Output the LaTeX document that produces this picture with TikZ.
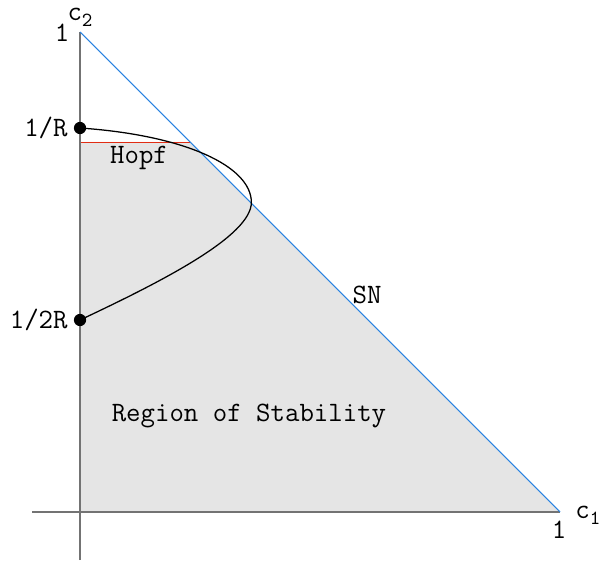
\documentclass[tikz,border=0pt]{standalone}
\usepackage{tikz}
\definecolor{snblue}{RGB}{40,130,225}
\definecolor{hopfred}{RGB}{225,45,20}
\definecolor{stabgray}{RGB}{229,229,229}
\definecolor{axisgray}{RGB}{115,115,115}

\begin{document}
\begin{tikzpicture}[x=8cm, y=8cm]
\tikzset{
  lbl/.style={font=\ttfamily\fontsize{13.3}{16}\selectfont, inner sep=0pt},
  dot/.style={circle, fill=black, inner sep=0pt, minimum size=5.8pt}
}
\useasboundingbox (-0.1667,-0.1125) rectangle (1.08125,1.0667);

% Region de stabilite
\fill[stabgray] (0,0) -- (1,0) -- (0.229,0.771) -- (0,0.771) -- cycle;
\draw[hopfred, thin] (0,0.771) -- (0.229,0.771);

% Axes
\draw[axisgray, line width=1pt] (-0.1,0) -- (1,0);
\draw[axisgray, line width=1pt] (0,-0.1) -- (0,1);

% Droite SN
\coordinate (top) at (0,1);
\coordinate (right) at (1,0);
\draw[snblue, line width=0.5pt] (top) -- (right);

% Points 1/R et 1/2R
\node[dot] (invR) at (0,0.8) {};
\node[dot] (halfR) at (0,0.4) {};

% Courbe de Hopf
\draw[black, line width=0.6pt] (invR.center) .. controls (0.22,0.785) and (0.357,0.72) .. (0.357,0.645)
  .. controls (0.357,0.575) and (0.17,0.48) .. (halfR.center);

% Etiquettes
\node[lbl] (c2) at (0,1.03) {c\raisebox{-0.5ex}{\fontsize{9.5}{10}\selectfont 2}};
\node[lbl] (one2) at (-0.0375,0.998) {1};
\node[lbl, anchor=east] (lR) at (-0.025,0.8) {1/R};
\node[lbl, anchor=east] (l2R) at (-0.025,0.4) {1/2R};
\node[lbl] (hopf) at (0.123,0.7375) {Hopf};
\node[lbl] (sn) at (0.598,0.452) {SN};
\node[lbl] (region) at (0.352,0.2) {Region of Stability};
\node[lbl] (c1) at (1.058,-0.006) {c\raisebox{-0.5ex}{\fontsize{9.5}{10}\selectfont 1}};
\node[lbl] (one1) at (0.998,-0.0375) {1};

\end{tikzpicture}
\end{document}
